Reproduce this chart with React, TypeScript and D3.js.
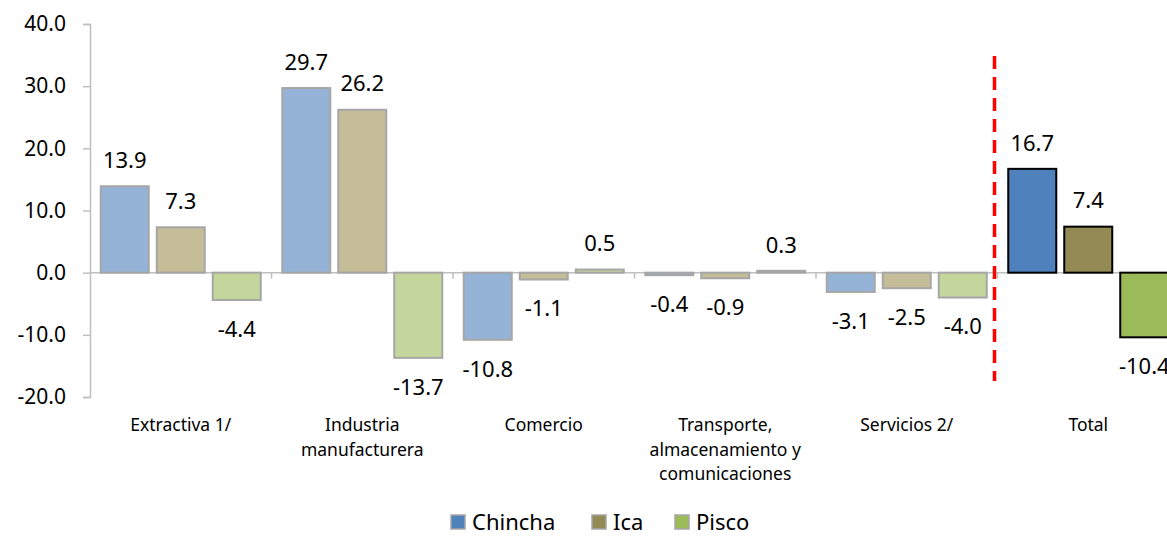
import { useEffect, useRef } from 'react';
import * as d3 from 'd3';

const categories = [
  'Extractiva 1/',
  'Industria\nmanufacturera',
  'Comercio',
  'Transporte,\nalmacenamiento y\ncomunicaciones',
  'Servicios 2/',
  'Total'
];
const seriesNames = ['Chincha', 'Ica', 'Pisco'];
const chinchaValues = [13.9, 29.7, -10.8, -0.4, -3.1, 16.7];
const icaValues = [7.3, 26.2, -1.1, -0.9, -2.5, 7.4];
const piscoValues = [-4.4, -13.7, 0.5, 0.3, -4.0, -10.4];
const yTicks = [-20, -10, 0, 10, 20, 30, 40];

const lightColors = ['#95b3d7', '#c4bd97', '#c3d69b'];
const darkColors = ['#4f81bd', '#948a54', '#9bbb59'];
const FONT = '"Noto Sans", "Open Sans", sans-serif';

// plain hyphen for negatives, like the source
const fmt = (v: number) => v.toFixed(1);

export default function App() {
  const ref = useRef<SVGSVGElement>(null);

  useEffect(() => {
    const svgEl = d3.select(ref.current);
    svgEl.selectAll('*').remove();

    const left = 90;
    const step = 181.5;
    const valuesBySeries = [chinchaValues, icaValues, piscoValues];

    const xScale = d3
      .scaleBand()
      .domain(categories)
      .range([left, left + step * categories.length]);
    const innerScale = d3
      .scaleBand()
      .domain(seriesNames)
      .range([0, step])
      .paddingInner(8 / 56)
      .paddingOuter(0.192);
    const yScale = d3.scaleLinear().domain([-20, 40]).range([397, 24]);

    // y axis
    svgEl
      .append('g')
      .attr('transform', `translate(${left},0)`)
      .call(
        d3
          .axisLeft(yScale)
          .tickValues(yTicks)
          .tickSize(7)
          .tickPadding(17)
          .tickFormat((d) => fmt(d as number))
      )
      .call((g) => {
        g.select('.domain').attr('stroke', '#bfbfbf').attr('stroke-width', 1.5);
        g.selectAll('.tick line').attr('stroke', '#bfbfbf').attr('stroke-width', 1.5);
        g.selectAll('.tick text')
          .attr('fill', '#000')
          .attr('font-family', FONT)
          .attr('font-size', '21px');
      });

    // zero line with category ticks
    const zeroY = yScale(0);
    svgEl
      .append('line')
      .attr('x1', left)
      .attr('x2', 1167)
      .attr('y1', zeroY)
      .attr('y2', zeroY)
      .attr('stroke', '#bfbfbf')
      .attr('stroke-width', 1.5);
    svgEl
      .append('g')
      .selectAll('line')
      .data(categories.slice(1))
      .enter()
      .append('line')
      .attr('x1', (d) => xScale(d)!)
      .attr('x2', (d) => xScale(d)!)
      .attr('y1', zeroY)
      .attr('y2', zeroY + 6)
      .attr('stroke', '#bfbfbf')
      .attr('stroke-width', 1.5);

    // bars
    const barData = categories.flatMap((cat, ci) =>
      seriesNames.map((s, si) => ({ cat, s, si, ci, value: valuesBySeries[si][ci] }))
    );
    const isTotal = (ci: number) => ci === categories.length - 1;

    svgEl
      .append('g')
      .selectAll('rect')
      .data(barData)
      .enter()
      .append('rect')
      .attr('x', (d) => xScale(d.cat)! + innerScale(d.s)!)
      .attr('y', (d) => Math.min(yScale(d.value), zeroY))
      .attr('width', innerScale.bandwidth())
      .attr('height', (d) => Math.abs(yScale(d.value) - zeroY))
      .attr('fill', (d) => (isTotal(d.ci) ? darkColors[d.si] : lightColors[d.si]))
      .attr('stroke', (d) => (isTotal(d.ci) ? '#000' : '#a6a6a6'))
      .attr('stroke-width', 2);

    // value labels
    svgEl
      .append('g')
      .selectAll('text')
      .data(barData)
      .enter()
      .append('text')
      .attr('x', (d) => xScale(d.cat)! + innerScale(d.s)! + innerScale.bandwidth() / 2)
      .attr('y', (d) => (d.value >= 0 ? yScale(d.value) - 26 : yScale(d.value) + 29))
      .attr('dy', '0.35em')
      .attr('text-anchor', 'middle')
      .attr('font-family', FONT)
      .attr('font-size', '22px')
      .attr('fill', '#000')
      .text((d) => fmt(d.value));

    // separator
    const sepX = xScale('Total')! - 3;
    svgEl
      .append('line')
      .attr('x1', sepX)
      .attr('x2', sepX)
      .attr('y1', 56)
      .attr('y2', 381)
      .attr('stroke', '#ff0000')
      .attr('stroke-width', 3.5)
      .attr('stroke-dasharray', '13 8');

    // category labels
    const catLabels = svgEl
      .append('g')
      .selectAll('text')
      .data(categories)
      .enter()
      .append('text')
      .attr('x', (d) => xScale(d)! + step / 2)
      .attr('y', 425)
      .attr('text-anchor', 'middle')
      .attr('font-family', FONT)
      .attr('font-size', '17.5px')
      .attr('fill', '#000');
    catLabels.each(function (d) {
      d.split('\n').forEach((line, i) => {
        d3.select(this)
          .append('tspan')
          .attr('x', xScale(d)! + step / 2)
          .attr('dy', i === 0 ? '0.35em' : '24.5px')
          .text(line);
      });
    });

    // legend
    const legendX = [451, 592, 675];
    const legend = svgEl
      .append('g')
      .selectAll('g')
      .data(seriesNames)
      .enter()
      .append('g')
      .attr('transform', (_, i) => `translate(${legendX[i]},522)`);
    legend
      .append('rect')
      .attr('x', 0)
      .attr('y', -7)
      .attr('width', 14)
      .attr('height', 14)
      .attr('fill', (_, i) => darkColors[i])
      .attr('stroke', '#a6a6a6')
      .attr('stroke-width', 1.5);
    legend
      .append('text')
      .attr('x', 21)
      .attr('y', 0)
      .attr('dy', '0.35em')
      .attr('font-family', FONT)
      .attr('font-size', '22px')
      .attr('fill', '#000')
      .text((d) => d);
  }, []);

  return (
    <svg
      ref={ref}
      width={1167}
      height={538}
      style={{ position: 'absolute', left: 0, top: 0, background: '#fff', overflow: 'hidden' }}
    />
  );
}
